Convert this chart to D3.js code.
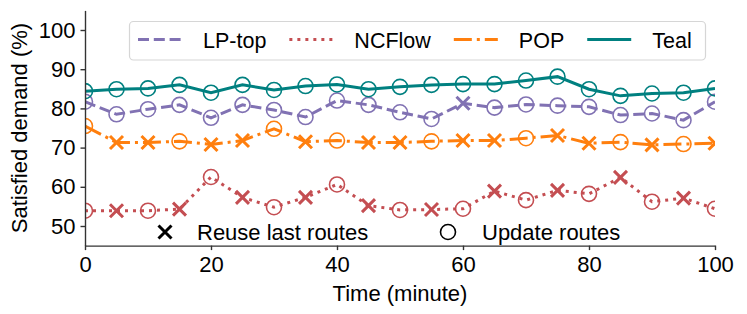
<!DOCTYPE html>
<html>
<head>
<meta charset="utf-8">
<script src="https://cdn.jsdelivr.net/npm/d3@7"></script>
<style>
  body { margin: 0; background: #fff; }
  svg { display: block; font-family: "Liberation Sans", Arial, sans-serif; }
</style>
</head>
<body>
<svg id="chart" width="747" height="314"></svg>
<script>
const width = 747
const height = 314
const margin = { top: 10.4, right: 30, bottom: 68.4, left: 85 }

// data
const times = [0, 5, 10, 15, 20, 25, 30, 35, 40, 45, 50, 55, 60, 65, 70, 75, 80, 85, 90, 95, 100]
const lpTop = [81.7, 78.5, 79.8, 80.9, 77.6, 80.9, 79.6, 77.8, 82.0, 80.9, 79.0, 77.3, 81.3, 80.2, 81.0, 80.7, 80.4, 78.3, 78.7, 77.0, 81.7]
const ncflow = [53.9, 53.9, 53.9, 54.3, 62.5, 57.3, 54.8, 57.3, 60.6, 55.2, 54.1, 54.2, 54.4, 58.9, 56.6, 59.1, 58.2, 62.4, 56.2, 57.1, 54.4]
const pop = [75.5, 71.3, 71.3, 71.6, 70.8, 71.8, 74.8, 71.5, 71.8, 71.3, 71.3, 71.6, 71.8, 71.8, 72.4, 73.1, 71.1, 71.4, 70.7, 70.9, 71.1]
const teal = [84.4, 84.9, 85.1, 86.0, 84.0, 86.0, 84.7, 85.7, 86.1, 84.9, 85.5, 86.0, 86.2, 86.2, 87.1, 88.1, 84.9, 83.2, 83.8, 84.0, 85.1]

// marker per point: 'x' = reuse last routes, 'o' = update routes
const lpTopMarks = ['o','o','o','o','o','o','o','o','o','o','o','o','x','o','o','o','o','o','o','o','o']
const ncflowMarks = ['o','x','o','x','o','x','o','x','o','x','o','x','o','x','o','x','o','x','o','x','o']
const popMarks = ['o','x','x','o','x','x','o','x','o','x','x','o','x','x','o','x','x','o','x','o','x']
const tealMarks = ['o','o','o','o','o','o','o','o','o','o','o','o','o','o','o','o','o','o','o','o','o']

const seriesNames = ['LP-top', 'NCFlow', 'POP', 'Teal']
const xTicks = [0, 20, 40, 60, 80, 100]
const yTicks = [50, 60, 70, 80, 90, 100]

const styles = {
  'LP-top': { color: '#8172b3', dash: '11,4.8' },
  'NCFlow': { color: '#c44e52', dash: '3,5' },
  'POP': { color: '#ff7f0e', dash: '18,5,3,5' },
  'Teal': { color: '#008080', dash: null }
}

const series = [
  { name: 'LP-top', values: lpTop, marks: lpTopMarks },
  { name: 'NCFlow', values: ncflow, marks: ncflowMarks },
  { name: 'POP', values: pop, marks: popMarks },
  { name: 'Teal', values: teal, marks: tealMarks }
]

const svg = d3.select('#chart')

const x = d3.scaleLinear()
  .domain([0, 100])
  .range([margin.left, width - margin.right - 2])

const y = d3.scaleLinear()
  .domain([45, 105])
  .range([height - margin.bottom, margin.top])

svg.append('defs').append('clipPath')
  .attr('id', 'plot-clip')
  .append('rect')
  .attr('x', x(0))
  .attr('y', y(105))
  .attr('width', x(100) - x(0))
  .attr('height', y(45) - y(105))

const line = d3.line()
  .x((d, i) => x(times[i]))
  .y(d => y(d))

const xSymbol = (g, r, color, sw) => {
  g.append('path')
    .attr('d', `M${-r},${-r}L${r},${r}M${-r},${r}L${r},${-r}`)
    .attr('stroke', color)
    .attr('stroke-width', sw)
    .attr('fill', 'none')
}

const plot = svg.append('g').attr('clip-path', 'url(#plot-clip)')

series.forEach(s => {
  const st = styles[s.name]
  plot.append('path')
    .datum(s.values)
    .attr('d', line)
    .attr('fill', 'none')
    .attr('stroke', st.color)
    .attr('stroke-width', 3)
    .attr('stroke-dasharray', st.dash)

  const pts = plot.append('g')
    .selectAll('g')
    .data(s.values)
    .join('g')
    .attr('transform', (d, i) => `translate(${x(times[i])},${y(d)})`)

  pts.filter((d, i) => s.marks[i] === 'o')
    .append('circle')
    .attr('r', 7.5)
    .attr('fill', 'none')
    .attr('stroke', st.color)
    .attr('stroke-width', 1.6)

  pts.filter((d, i) => s.marks[i] === 'x')
    .each(function () { xSymbol(d3.select(this), 6.5, st.color, 3) })
})

// axes
const xAxis = g => g
  .attr('transform', `translate(0,${y(45)})`)
  .call(d3.axisBottom(x).tickValues(xTicks).tickSize(4.5).tickPadding(6).tickSizeOuter(0))

const yAxis = g => g
  .attr('transform', `translate(${x(0)},0)`)
  .call(d3.axisLeft(y).tickValues(yTicks).tickSize(4.5).tickPadding(5).tickSizeOuter(0))

svg.append('g').call(xAxis)
svg.append('g').call(yAxis)

svg.selectAll('.domain, .tick line')
  .attr('stroke', '#333')
  .attr('stroke-width', 1.4)
svg.selectAll('.tick text')
  .attr('font-size', 22)
  .attr('font-family', '"Liberation Sans", Arial, sans-serif')
  .attr('fill', '#000')

svg.append('text')
  .attr('x', (x(0) + x(100)) / 2)
  .attr('y', 301)
  .attr('text-anchor', 'middle')
  .attr('font-size', 22)
  .text('Time (minute)')

svg.append('text')
  .attr('transform', `translate(27,${(y(45) + y(105)) / 2}) rotate(-90)`)
  .attr('text-anchor', 'middle')
  .attr('font-size', 22)
  .text('Satisfied demand (%)')

// top legend
const legend = svg.append('g')
legend.append('rect')
  .attr('x', 129.5)
  .attr('y', 21.5)
  .attr('width', 576)
  .attr('height', 38.5)
  .attr('rx', 4)
  .attr('fill', '#fff')
  .attr('fill-opacity', 0.8)
  .attr('stroke', '#d6d6d6')
  .attr('stroke-width', 1.2)

let lx = 138
seriesNames.forEach(name => {
  const st = styles[name]
  legend.append('line')
    .attr('x1', lx).attr('x2', lx + 44)
    .attr('y1', 39.5).attr('y2', 39.5)
    .attr('stroke', st.color)
    .attr('stroke-width', 3)
    .attr('stroke-dasharray', st.dash)
  const t = legend.append('text')
    .attr('x', lx + 65)
    .attr('y', 47.5)
    .attr('font-size', 21.5)
    .text(name)
  lx = lx + 65 + t.node().getComputedTextLength() + 23
})

// marker legend below
const mk = svg.append('g')
xSymbol(mk.append('g').attr('transform', 'translate(165,232)'), 6.5, '#000', 3)
mk.append('text')
  .attr('x', 197)
  .attr('y', 240)
  .attr('font-size', 22)
  .text('Reuse last routes')
mk.append('circle')
  .attr('cx', 448).attr('cy', 232)
  .attr('r', 7.5)
  .attr('fill', 'none')
  .attr('stroke', '#000')
  .attr('stroke-width', 1.6)
mk.append('text')
  .attr('x', 482)
  .attr('y', 240)
  .attr('font-size', 22)
  .text('Update routes')
</script>
</body>
</html>
